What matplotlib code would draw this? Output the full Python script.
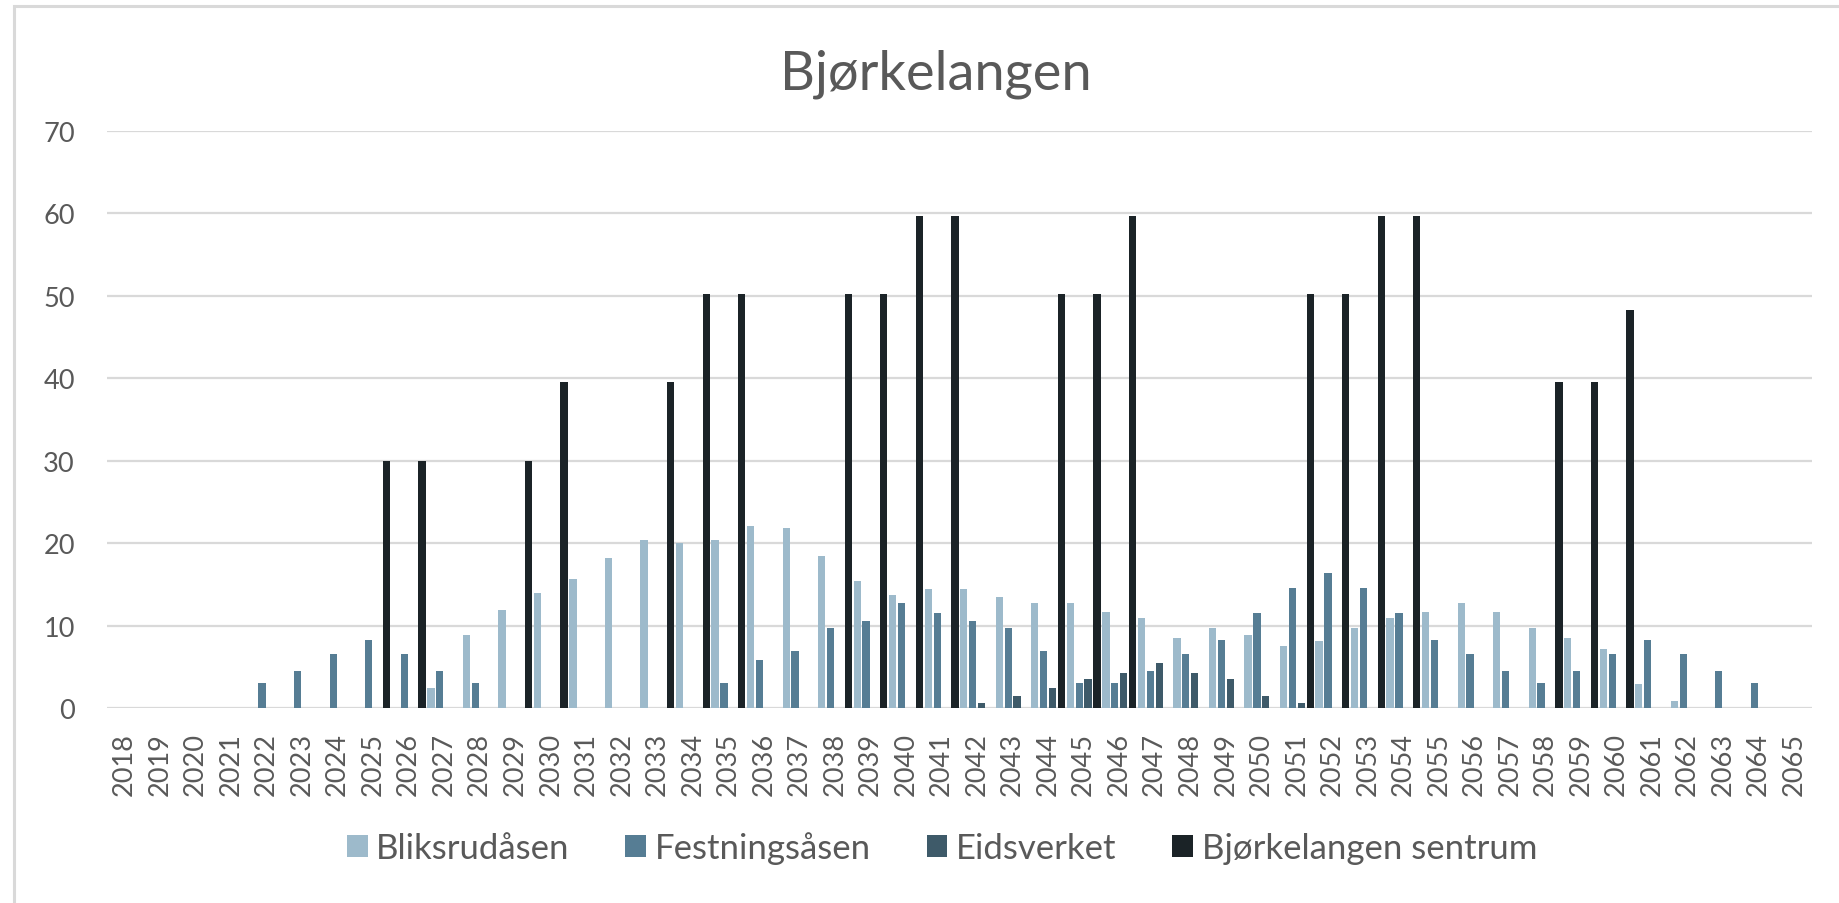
import matplotlib
matplotlib.use('Agg')
import matplotlib.pyplot as plt
import matplotlib.patches as mpatches
import numpy as np

plt.rcParams['font.family'] = ['Lato', 'DejaVu Sans']

years = [str(y) for y in range(2018, 2066)]

# verdier lest av figuren, ett tall per år 2018-2065
bliksrudasen = [0, 0, 0, 0, 0, 0, 0, 0, 0,
                2.4, 8.9, 11.9, 14.0, 15.7, 18.2, 20.4, 20.0, 20.4, 22.1, 21.9,
                18.5, 15.4, 13.7, 14.5, 14.4, 13.5, 12.8, 12.8, 11.7, 10.9,
                8.5, 9.7, 8.9, 7.5, 8.2, 9.7, 10.9, 11.7, 12.8, 11.7,
                9.7, 8.5, 7.2, 2.9, 0.9, 0, 0, 0]
festningsasen = [0, 0, 0, 0, 3.1, 4.5, 6.6, 8.3, 6.6, 4.5, 3.1,
                 0, 0, 0, 0, 0, 0,
                 3.1, 5.8, 6.9, 9.7, 10.6, 12.8, 11.6, 10.6, 9.7, 6.9,
                 3.1, 3.1, 4.5, 6.6, 8.3, 11.6, 14.6, 16.4, 14.6, 11.6,
                 8.3, 6.6, 4.5, 3.1, 4.5, 6.6, 8.3, 6.6, 4.5, 3.1, 0]
eidsverket = [0] * 24 + [0.6, 1.5, 2.4, 3.5, 4.3, 5.5, 4.3, 3.5, 1.5, 0.6] + [0] * 14
sentrum = [0, 0, 0, 0, 0, 0, 0, 30, 30, 0, 0, 30, 39.5, 0, 0, 39.5, 50.2, 50.2,
           0, 0, 50.2, 50.2, 59.7, 59.7, 0, 0, 50.2, 50.2, 59.7, 0, 0, 0, 0,
           50.2, 50.2, 59.7, 59.7, 0, 0, 0, 39.5, 39.5, 48.3, 0, 0, 0, 0, 0]

series = [bliksrudasen, festningsasen, eidsverket, sentrum]
names = ['Bliksrudåsen', 'Festningsåsen', 'Eidsverket', 'Bjørkelangen sentrum']
colors = ['#9DBACB', '#567D94', '#3E5A69', '#1B2327']

W, H = 1839, 904
fig = plt.figure(figsize=(W / 100, H / 100), dpi=100)
ax = fig.add_axes([106.7 / W, 1 - 709.3 / H, (1812 - 106.7) / W, (709.3 - 131.7) / H])

x = np.arange(len(years))
slot = 0.25
for k, (vals, c) in enumerate(zip(series, colors)):
    ax.bar(x + (k - 1.5) * slot, vals, width=slot * 0.82, color=c, label=names[k], zorder=3)

ax.set_xlim(-0.5, len(years) - 0.5)
ax.set_ylim(0, 70)
ax.set_yticks(range(0, 71, 10))
ax.set_xticks(x)
ax.set_xticklabels(years, rotation=90)
ax.yaxis.grid(True, color='#D9D9D9', lw=1.6)
ax.set_axisbelow(True)
for s in ax.spines.values():
    s.set_visible(False)
ax.tick_params(axis='both', length=0, colors='#595959', labelsize=19.5)
ax.tick_params(axis='y', pad=23)
ax.tick_params(axis='x', pad=17)

fig.text(936 / W, 1 - 74 / H, 'Bjørkelangen', ha='center', va='center',
         fontsize=39, color='#595959')

leg = fig.legend(loc='center', bbox_to_anchor=(942 / W, 1 - 849 / H), ncol=4,
                 frameon=False, fontsize=25, handlelength=0.6, handleheight=0.6,
                 handletextpad=0.25, columnspacing=1.6)
for t in leg.get_texts():
    t.set_color('#595959')

# ramme rundt diagrammet (bare topp og venstre synlig)
fig.add_artist(mpatches.Rectangle((14 / W, -0.5), 2, 1.5 - 6.5 / H, fill=False,
                                  edgecolor='#D9D9D9', lw=2.2,
                                  transform=fig.transFigure, clip_on=False))

fig.savefig('out.png', dpi=100)
